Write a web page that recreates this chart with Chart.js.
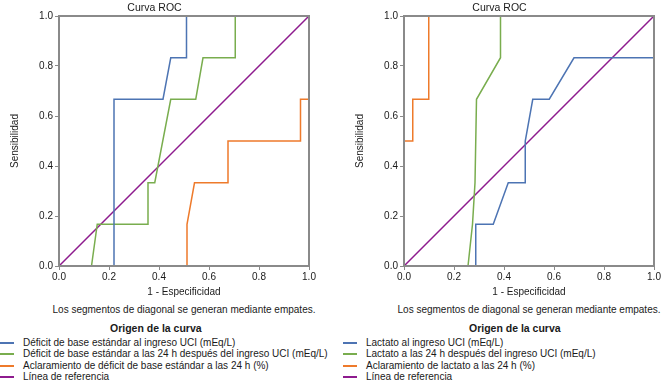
<!DOCTYPE html>
<html>
<head>
<meta charset="utf-8">
<script src="https://cdn.jsdelivr.net/npm/chart.js@4/dist/chart.umd.min.js"></script>
<style>
  html, body { margin:0; padding:0; background:#fff; width:672px; height:386px; overflow:hidden; position:relative; }
  body { font-family: "Liberation Sans", Arial, Helvetica, sans-serif; color:#1a1a1a; }
  canvas { position:absolute; top:0; }
  .t { position:absolute; font-size:10px; line-height:12px; white-space:nowrap; }
  .note { text-align:center; width:368px; }
  .lt { font-weight:bold; font-size:10.5px; }
  .sw { position:absolute; height:1.5px; width:14px; }
</style>
</head>
<body>
<canvas id="c1" width="320" height="300" style="left:0px"></canvas>
<canvas id="c2" width="320" height="300" style="left:345px"></canvas>

<div class="t note" style="left:0px; top:304px;">Los segmentos de diagonal se generan mediante empates.</div>
<div class="t note" style="left:345px; top:304px;">Los segmentos de diagonal se generan mediante empates.</div>

<div class="t lt" style="left:110px; top:322px;">Origen de la curva</div>
<div class="t lt" style="left:469px; top:322px;">Origen de la curva</div>

<div id="leg1"></div>
<div id="leg2"></div>

<script>
// ---------- Data ----------
const tickLabels = ["0.0", "0.2", "0.4", "0.6", "0.8", "1.0"];
const chartTitle = "Curva ROC";
const xTitle = "1 - Especificidad";
const yTitle = "Sensibilidad";

// Left chart
const leftNames = [
  "Déficit de base estándar al ingreso UCI (mEq/L)",
  "Déficit de base estándar a las 24 h después del ingreso UCI (mEq/L)",
  "Aclaramiento de déficit de base estándar a las 24 h (%)",
  "Línea de referencia"
];
const deficitIngresoX = [0, 0.22, 0.22, 0.416, 0.447, 0.51, 0.51, 1];
const deficitIngresoY = [0, 0, 0.667, 0.667, 0.833, 0.833, 1, 1];
const deficit24hX = [0, 0.13, 0.153, 0.356, 0.356, 0.383, 0.447, 0.547, 0.576, 0.705, 0.705, 1];
const deficit24hY = [0, 0, 0.167, 0.167, 0.333, 0.333, 0.667, 0.667, 0.833, 0.833, 1, 1];
const aclDeficitX = [0, 0.512, 0.512, 0.542, 0.676, 0.676, 0.966, 0.966, 1, 1];
const aclDeficitY = [0, 0, 0.167, 0.333, 0.333, 0.5, 0.5, 0.667, 0.667, 1];

// Right chart
const rightNames = [
  "Lactato al ingreso UCI (mEq/L)",
  "Lactato a las 24 h después del ingreso UCI (mEq/L)",
  "Aclaramiento de lactato a las 24 h (%)",
  "Línea de referencia"
];
const lactatoIngresoX = [0, 0.287, 0.287, 0.357, 0.417, 0.485, 0.485, 0.515, 0.581, 0.68, 1, 1];
const lactatoIngresoY = [0, 0, 0.167, 0.167, 0.333, 0.333, 0.5, 0.667, 0.667, 0.833, 0.833, 1];
const lactato24hX = [0, 0.256, 0.274, 0.284, 0.29, 0.386, 0.386, 1];
const lactato24hY = [0, 0, 0.167, 0.333, 0.667, 0.833, 1, 1];
const aclLactatoX = [0, 0, 0.035, 0.035, 0.099, 0.099, 1];
const aclLactatoY = [0, 0.5, 0.5, 0.667, 0.667, 1, 1];

// Reference line
const refX = [0, 1];
const refY = [0, 1];

const colors = ["#4d74b3", "#79ad4e", "#ee7a2b", "#8e1b8e"];
const axisColor = "#8a8a8a";
const FONT = "'Liberation Sans', Arial, Helvetica, sans-serif";

function pts(xs, ys) { return xs.map((x, i) => ({ x: x, y: ys[i] })); }

const boxPlugin = {
  id: 'box',
  afterDatasetsDraw(chart) {
    const a = chart.chartArea, ctx = chart.ctx;
    ctx.save();
    ctx.strokeStyle = axisColor;
    ctx.lineWidth = 2;
    ctx.strokeRect(a.left, a.top, a.right - a.left, a.bottom - a.top);
    ctx.restore();
  }
};

function makeChart(id, names, series) {
  const datasets = series.map((s, i) => ({
    label: names[i],
    data: pts(s[0], s[1]),
    borderColor: colors[i],
    backgroundColor: colors[i],
    borderWidth: 1.5,
    pointRadius: 0,
    tension: 0,
    fill: false
  }));
  return new Chart(document.getElementById(id), {
    type: 'line',
    data: { datasets },
    plugins: [boxPlugin],
    options: {
      responsive: false,
      animation: false,
      devicePixelRatio: 1,
      layout: { padding: { left: 0, right: 11, top: 0, bottom: 0 } },
      plugins: {
        legend: { display: false },
        tooltip: { enabled: false },
        title: {
          display: true, text: chartTitle, color: '#1a1a1a',
          font: { family: FONT, size: 10.5, weight: 'normal', lineHeight: 1.2 },
          padding: { top: 2, bottom: 1.4 }
        }
      },
      scales: {
        x: {
          type: 'linear', min: 0, max: 1,
          afterFit(s) { s.height = 34; },
          border: { display: true, color: axisColor, width: 2 },
          grid: { display: true, drawOnChartArea: false, drawTicks: true, tickLength: 4, color: axisColor, lineWidth: 1 },
          ticks: {
            stepSize: 0.2, color: '#1a1a1a', padding: 1, maxRotation: 0,
            font: { family: FONT, size: 10 },
            callback: (v) => tickLabels[Math.round(v * 5)]
          },
          title: { display: true, text: xTitle, color: '#1a1a1a', font: { family: FONT, size: 10 }, padding: { top: 0, bottom: 2 } }
        },
        y: {
          type: 'linear', min: 0, max: 1,
          afterFit(s) { s.width = 59; },
          border: { display: true, color: axisColor, width: 2 },
          grid: { display: true, drawOnChartArea: false, drawTicks: true, tickLength: 4, color: axisColor, lineWidth: 1 },
          ticks: {
            stepSize: 0.2, color: '#1a1a1a', padding: 2,
            font: { family: FONT, size: 10 },
            callback: (v) => tickLabels[Math.round(v * 5)]
          },
          title: { display: true, text: yTitle, color: '#1a1a1a', font: { family: FONT, size: 10 }, padding: { top: 9.5, bottom: 0 } }
        }
      }
    }
  });
}

makeChart('c1', leftNames, [
  [deficitIngresoX, deficitIngresoY],
  [deficit24hX, deficit24hY],
  [aclDeficitX, aclDeficitY],
  [refX, refY]
]);
makeChart('c2', rightNames, [
  [lactatoIngresoX, lactatoIngresoY],
  [lactato24hX, lactato24hY],
  [aclLactatoX, aclLactatoY],
  [refX, refY]
]);

// HTML legends
const rowCenters = [342.5, 354, 365.5, 377];
function buildLegend(elId, names, lineLeft, textLeft) {
  const el = document.getElementById(elId);
  names.forEach((n, i) => {
    const sw = document.createElement('div');
    sw.className = 'sw';
    sw.style.left = lineLeft + 'px';
    sw.style.top = Math.round(rowCenters[i] - 1) + 'px';
    sw.style.background = colors[i];
    el.appendChild(sw);
    const t = document.createElement('div');
    t.className = 't';
    t.style.left = textLeft + 'px';
    t.style.top = (rowCenters[i] - 6) + 'px';
    t.textContent = n;
    el.appendChild(t);
  });
}
buildLegend('leg1', leftNames, 0, 23);
buildLegend('leg2', rightNames, 343, 366);
</script>
</body>
</html>
